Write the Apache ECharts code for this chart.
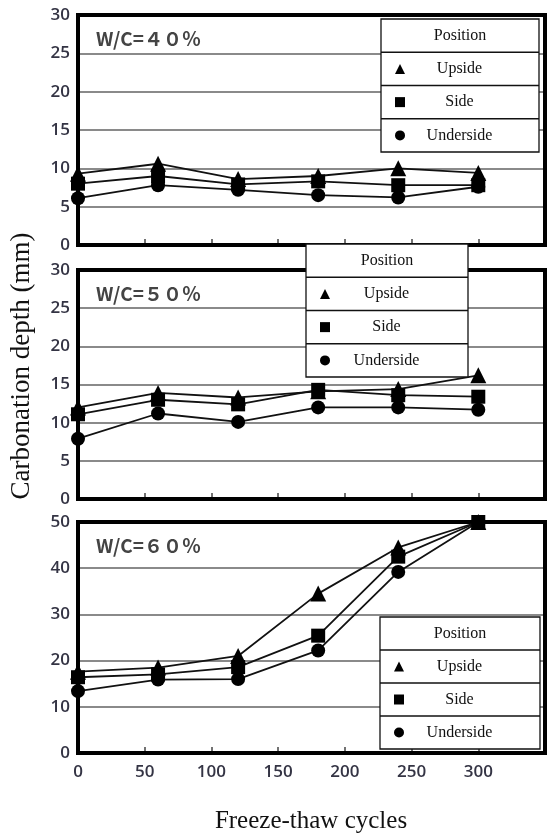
<!DOCTYPE html>
<html><head><meta charset="utf-8">
<script src="https://cdn.jsdelivr.net/npm/echarts@6/dist/echarts.min.js"></script>
<style>html,body{margin:0;padding:0;background:#fff}#c{width:548px;height:839px}</style>
</head><body><div id="c"></div>
<script>
// ---- data ----
const cycles = [0, 60, 120, 180, 240, 300];
const positions = ['Upside', 'Side', 'Underside'];
const positionSymbols = ['triangle', 'rect', 'circle'];
const panelLabels = ['W/C=４０％', 'W/C=５０％', 'W/C=６０％'];
const legendTitle = 'Position';
const xTitle = 'Freeze-thaw cycles';
const yTitle = 'Carbonation depth (mm)';

const wc40Upside    = [9.3, 10.6, 8.6, 9.0, 10.0, 9.4];
const wc40Side      = [8.0, 9.0, 7.9, 8.3, 7.8, 7.8];
const wc40Underside = [6.1, 7.8, 7.2, 6.5, 6.2, 7.6];

const wc50Upside    = [12.0, 13.9, 13.3, 14.1, 14.4, 16.2];
const wc50Side      = [11.1, 13.0, 12.4, 14.3, 13.6, 13.4];
const wc50Underside = [7.9, 11.2, 10.1, 12.0, 12.0, 11.7];

const wc60Upside    = [17.6, 18.5, 21.0, 34.5, 44.5, 50];
const wc60Side      = [16.4, 17.0, 18.6, 25.4, 42.5, 50];
const wc60Underside = [13.4, 15.9, 16.0, 22.2, 39.2, 50];

const panelData = [
  [wc40Upside, wc40Side, wc40Underside],
  [wc50Upside, wc50Side, wc50Underside],
  [wc60Upside, wc60Side, wc60Underside]
];
const yMaxes = [30, 30, 50];
const yIntervals = [5, 5, 10];
const xMin = 0, xMax = 350, xInterval = 50;

// ---- layout (pixels) ----
const gridLeft = 78, gridRight = 3;
const grids = [{top: 15, height: 230}, {top: 270, height: 229}, {top: 522, height: 231}];
const legendBoxes = [
  {x: 381, y: 19, w: 158, h: 133},
  {x: 306, y: 244, w: 162, h: 133},
  {x: 380, y: 617, w: 160, h: 132}
];
const symbolSizes = [16, 14, 14];
const tickFont = 'Open Sans';
const tickColor = '#343444';

const chart = echarts.init(document.getElementById('c'), null, {renderer: 'canvas'});

const option = {
  animation: false,
  backgroundColor: '#fff',
  grid: grids.map(g => ({
    left: gridLeft, right: gridRight, top: g.top, height: g.height,
    show: true, borderColor: '#000', borderWidth: 4, backgroundColor: 'transparent', z: 1
  })),
  xAxis: grids.map((g, i) => ({
    type: 'value', gridIndex: i, min: xMin, max: xMax, interval: xInterval,
    axisLine: {show: true, lineStyle: {color: '#000', width: 4}},
    axisTick: {show: true, inside: true, length: 6, lineStyle: {color: '#444', width: 1.5}},
    axisLabel: {show: i === 2, showMaxLabel: false, fontFamily: tickFont, fontWeight: 600,
      fontSize: 17, color: tickColor, margin: 11},
    splitLine: {show: false}
  })),
  yAxis: grids.map((g, i) => ({
    type: 'value', gridIndex: i, min: 0, max: yMaxes[i], interval: yIntervals[i],
    axisLine: {show: true, lineStyle: {color: '#000', width: 4}},
    axisTick: {show: false},
    axisLabel: {fontFamily: tickFont, fontWeight: 600, fontSize: 17, color: tickColor, margin: 8},
    splitLine: {show: true, showMinLine: false, showMaxLine: false,
      lineStyle: {color: '#8a8a8a', width: 2}}
  })),
  legend: legendBoxes.map((b, i) => {
    const rowH = b.h / 4;
    return {
      orient: 'vertical', selectedMode: false, padding: 0, z: 10,
      left: b.x + 19 - 5, top: b.y + 1.5 * rowH - 8,
      itemWidth: 10, itemHeight: 10, itemGap: rowH - 16,
      data: positions.map((p, k) => ({name: p, icon: positionSymbols[k]})),
      formatter: '{t|{name}}',
      textStyle: {
        rich: {t: {width: b.w - 59, align: 'center', fontFamily: 'Liberation Serif',
          fontSize: 16, lineHeight: 16, color: '#111'}}
      }
    };
  }),
  graphic: [],
  series: []
};

panelData.forEach((sets, p) => {
  sets.forEach((vals, k) => {
    option.series.push({
      type: 'line', name: positions[k], xAxisIndex: p, yAxisIndex: p,
      data: cycles.map((c, j) => [c, vals[j]]),
      symbol: positionSymbols[k], symbolSize: symbolSizes[k],
      itemStyle: {color: '#000'},
      lineStyle: {color: '#111', width: 1.8},
      z: 3
    });
  });
});

// legend tables
legendBoxes.forEach(b => {
  const rowH = b.h / 4;
  option.graphic.push({
    type: 'rect', z: 5, shape: {x: b.x, y: b.y, width: b.w, height: b.h},
    style: {fill: '#fff', stroke: '#111', lineWidth: 1.3}
  });
  for (let r = 1; r < 4; r++) {
    option.graphic.push({
      type: 'line', z: 6,
      shape: {x1: b.x, y1: b.y + r * rowH, x2: b.x + b.w, y2: b.y + r * rowH},
      style: {stroke: '#111', lineWidth: 1.3}
    });
  }
  option.graphic.push({
    type: 'text', z: 6, x: b.x + b.w / 2, y: b.y + rowH / 2,
    style: {text: legendTitle, fontFamily: 'Liberation Serif', fontSize: 16,
      fill: '#111', align: 'center', verticalAlign: 'middle'}
  });
});

// panel labels
grids.forEach((g, i) => {
  option.graphic.push({
    type: 'text', z: 6, x: 96, y: g.top + 24,
    style: {text: panelLabels[i], fontFamily: 'Noto Sans CJK JP', fontWeight: 'bold',
      fontSize: 19, fill: '#444', verticalAlign: 'middle'}
  });
});

// axis titles
option.graphic.push({
  type: 'text', z: 6, x: 311, y: 821,
  style: {text: xTitle, fontFamily: 'Liberation Serif', fontSize: 25, fill: '#111',
    align: 'center', verticalAlign: 'middle'}
});
option.graphic.push({
  type: 'text', z: 6, x: 22, y: 366, rotation: Math.PI / 2,
  style: {text: yTitle, fontFamily: 'Liberation Serif', fontSize: 27, fill: '#111',
    align: 'center', verticalAlign: 'middle'}
});

chart.setOption(option);
</script>
</body></html>
